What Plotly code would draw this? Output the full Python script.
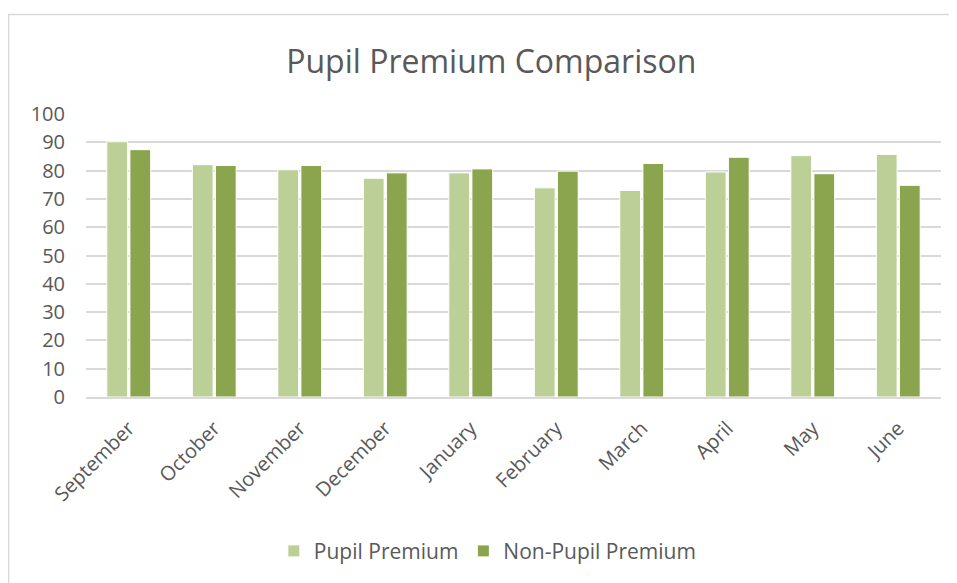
import plotly.graph_objects as go

months = ["September", "October", "November", "December", "January",
          "February", "March", "April", "May", "June"]
pupil_premium = [90.2, 82.1, 80.3, 77.3, 79.2, 73.9, 73.0, 79.5, 85.3, 85.7]
non_pupil_premium = [87.4, 81.8, 81.8, 79.2, 80.6, 79.8, 82.5, 84.7, 78.9, 74.8]
y_ticks = list(range(0, 101, 10))

FONT = "Open Sans"
TXT = "#595959"

fig = go.Figure()
fig.add_trace(go.Bar(name="Pupil Premium", x=months, y=pupil_premium,
                     marker=dict(color="#bbcf97", line=dict(color="white", width=1))))
fig.add_trace(go.Bar(name="Non-Pupil Premium", x=months, y=non_pupil_premium,
                     marker=dict(color="#8aa54e", line=dict(color="white", width=1))))

fig.update_layout(
    width=957, height=583,
    paper_bgcolor="white", plot_bgcolor="white",
    margin=dict(l=78, r=24, t=106, b=194),
    barmode="group", bargap=0.46, bargroupgap=0.1,
    title=dict(text="Pupil Premium Comparison", x=0.505, xanchor="center",
               y=0.907, yanchor="middle",
               font=dict(family=FONT, size=32, color=TXT)),
    font=dict(family=FONT, color=TXT, size=20),
    legend=dict(orientation="h", x=0.47, xanchor="center", y=-0.545, yanchor="middle",
                font=dict(family=FONT, size=21, color=TXT), traceorder="normal",
                itemwidth=30),
    xaxis=dict(tickangle=-45, showgrid=False, showline=True, linecolor="#d9d9d9",
               linewidth=1.5, tickfont=dict(family=FONT, size=20, color=TXT),
               ticks="", ticklabelstandoff=10),
    yaxis=dict(range=[0, 100], tickvals=y_ticks, showgrid=True, gridcolor="#d9d9d9",
               gridwidth=1.5, zeroline=False, showline=False,
               tickfont=dict(family=FONT, size=20, color=TXT), ticks="",
               ticklabelstandoff=20),
    shapes=[dict(type="rect", xref="paper", yref="paper",
                 x0=-0.0905, x1=1.1, y0=-0.75, y1=1.352,
                 line=dict(color="#d9d9d9", width=1.5), layer="below")],
)

fig.write_html("out.html")
